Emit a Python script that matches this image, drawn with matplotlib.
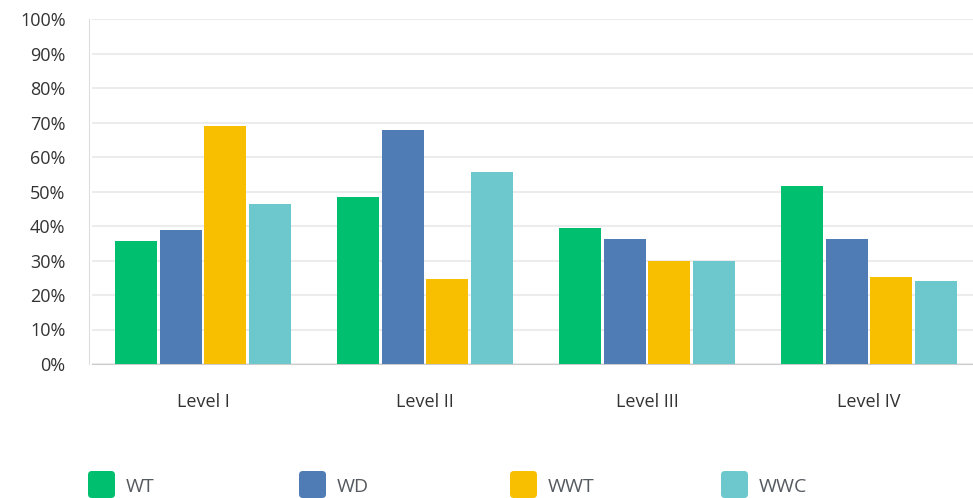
import matplotlib.pyplot as plt
import numpy as np
from matplotlib.patches import FancyBboxPatch

levels = ["Level I", "Level II", "Level III", "Level IV"]
series = ["WT", "WD", "WWT", "WWC"]
colors = ["#00bf6f", "#507cb6", "#f8be00", "#6cc8cc"]
wt = [35.6, 48.4, 39.4, 51.6]
wd = [38.8, 67.8, 36.2, 36.2]
wwt = [69.0, 24.6, 29.9, 25.2]
wwc = [46.4, 55.6, 29.9, 24.1]
values = [wt, wd, wwt, wwc]

plt.rcParams['font.family'] = ['Open Sans', 'DejaVu Sans']

W, H = 973, 498
fig = plt.figure(figsize=(W / 100, H / 100), dpi=100)
ax = fig.add_axes([92 / W, 1 - 364 / H, 888 / W, 345 / H])

x = np.arange(len(levels))
bw = 0.19
for i, (name, vals) in enumerate(zip(series, values)):
    ax.bar(x + (i - 1.5) * 0.2, vals, width=bw, color=colors[i], zorder=3)

ax.set_xlim(-0.5, 3.5)
ax.set_ylim(0, 100)
ax.set_yticks(range(0, 101, 10))
ax.set_yticklabels([f"{v}%" for v in range(0, 101, 10)])
ax.set_xticks(x)
ax.set_xticklabels(levels)
ax.grid(axis='y', color='#ececec', linewidth=1.5, zorder=0)
for s in ['top', 'right']:
    ax.spines[s].set_visible(False)
ax.spines['left'].set_color('#dddddd')
ax.spines['bottom'].set_color('#cccccc')
ax.spines['left'].set_position(('outward', 2))
ax.tick_params(axis='y', length=0, labelsize=13, colors='#333333', pad=17)
ax.tick_params(axis='x', length=0, labelsize=13, colors='#333333', pad=21)

# legend
for i, name in enumerate(series):
    x0 = 88 + i * 211
    p = FancyBboxPatch((x0 / W, 1 - 498 / H), 27 / W, 27 / H,
                       boxstyle="round,pad=0,rounding_size=0.004",
                       transform=fig.transFigure, facecolor=colors[i],
                       edgecolor='none', mutation_aspect=W / H)
    fig.patches.append(p)
    fig.text((x0 + 38) / W, 1 - 487 / H, name, fontsize=14,
             color='#555a60', va='center', ha='left')

fig.savefig("out.png", dpi=100)
